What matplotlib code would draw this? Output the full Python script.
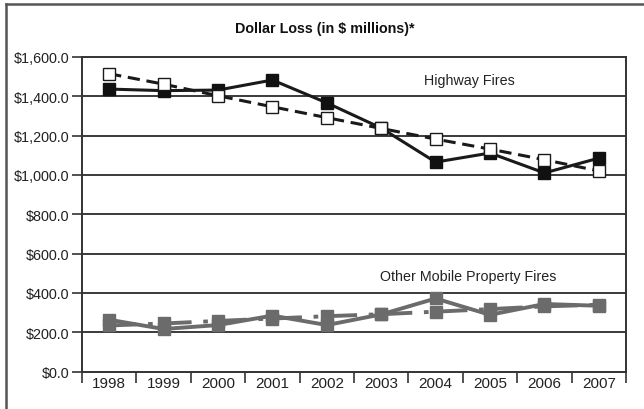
import matplotlib
matplotlib.use("Agg")
import matplotlib.pyplot as plt
import numpy as np

years = ["1998", "1999", "2000", "2001", "2002", "2003", "2004", "2005", "2006", "2007"]
highway = [1436, 1428, 1431, 1482, 1366, 1238, 1065, 1111, 1010, 1085]
highway_trend = [1514, 1461, 1402, 1346, 1291, 1236, 1182, 1131, 1077, 1020]
other = [264, 217, 237, 285, 237, 291, 372, 289, 344, 335]
other_trend = [235, 245, 258, 270, 282, 292, 305, 318, 332, 340]
yticks = [0, 200, 400, 600, 800, 1000, 1200, 1400, 1600]
title = "Dollar Loss (in $ millions)*"

plt.rcParams['font.family'] = ['Liberation Sans', 'DejaVu Sans']

fig = plt.figure(figsize=(6.44, 4.10), dpi=100)
ax = fig.add_axes([82/644, 1-372.7/410, (626-82)/644, (372.7-57.8)/410])

x = np.arange(len(years))
grid_c = '#3a3a3a'
for v in yticks[1:-1]:
    ax.axhline(v, color=grid_c, lw=1.4, zorder=1)

gray = '#6b6b6b'
ax.plot(x, other_trend, color=gray, lw=2.8, ls=(0, (7, 3, 1.2, 3)), marker='s', ms=9,
        mfc=gray, mec=gray, zorder=3)
ax.plot(x, other, color=gray, lw=2.8, marker='s', ms=9, mfc=gray, mec=gray, zorder=4)

ax.plot(x, highway_trend, color='#1a1a1a', lw=2.2, ls=(0, (4, 2.2)), marker='s', ms=8,
        mfc='white', mec='#1a1a1a', mew=1.0, zorder=5)
ax.plot(x, highway, color='#1a1a1a', lw=2.2, marker='s', ms=8, mfc='#111111',
        mec='#111111', zorder=4)

ax.set_xlim(-0.5, len(years) - 0.5)
ax.set_ylim(0, 1600)
ax.set_yticks(yticks)
ax.set_yticklabels([f"${v:,.1f}" for v in yticks], fontsize=10.4, color='#222222')
ax.set_xticks(np.arange(-0.5, len(years), 1.0))
ax.set_xticklabels([])
ax.set_xticks(x, minor=True)
ax.set_xticklabels(years, minor=True, fontsize=11, color='#222222')
ax.tick_params(axis='x', which='major', length=8, width=1.2, color='#333333', direction='out')
ax.tick_params(axis='x', which='minor', length=0, pad=3)
ax.tick_params(axis='y', length=7, width=1.2, color='#333333', direction='out', pad=2)
for s in ax.spines.values():
    s.set_color('#333333')
    s.set_linewidth(1.4)

ax.text(6.63, 1482, "Highway Fires", ha='center', va='center', fontsize=10.3, color='#222222')
ax.text(6.6, 487, "Other Mobile Property Fires", ha='center', va='center', fontsize=10.3,
        color='#222222')

fig.text(325/644, 1-29/410, title, ha='center', va='center', fontsize=10.3,
         fontweight='bold', color='#111111')

# outer frame (left and top edges visible)
fig.add_artist(plt.Line2D([6/644, 6/644], [0, 1-5/410], color='#555555', lw=1.8,
                          transform=fig.transFigure))
fig.add_artist(plt.Line2D([6/644, 1], [1-5/410, 1-5/410], color='#555555', lw=1.8,
                          transform=fig.transFigure))

fig.savefig("out.png", dpi=100)
